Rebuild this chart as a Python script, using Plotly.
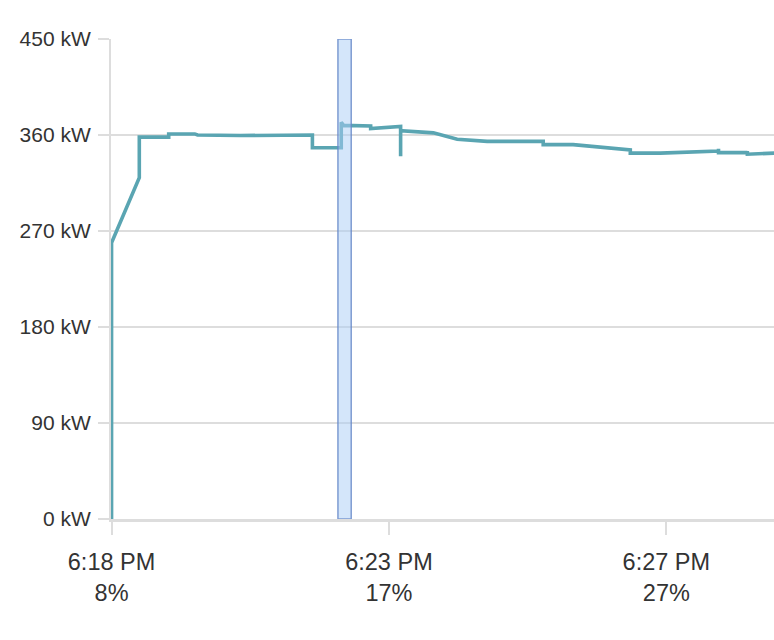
import plotly.graph_objects as go

# Session position (arbitrary units along the charging session; tick marks at 0, 5, 10)
position = [0, 0, 0.50, 0.50, 1.03, 1.03, 1.50, 1.55, 2.32, 3.62, 3.62, 4.14, 4.14, 4.18,
            4.67, 4.67, 5.21, 5.21, 5.21, 5.80, 6.23, 6.77, 7.78, 7.78, 8.32, 9.35, 9.35,
            9.89, 10.38, 10.94, 10.94, 10.94, 11.46, 11.46, 11.46, 11.95]
power_kw = [0, 259, 320, 358, 358, 361, 361, 360, 359.5, 360, 348, 348, 372, 369,
            368.5, 366, 368, 340, 364, 362, 356, 354, 354, 351, 351, 346, 343,
            343, 344, 345, 347, 343.5, 343.5, 345, 342, 343]

tick_pos = [0, 5, 10]
tick_time = ["6:18 PM", "6:23 PM", "6:27 PM"]
tick_soc = ["8%", "17%", "27%"]

y_ticks = [0, 90, 180, 270, 360, 450]
y_labels = [f"{v} kW" for v in y_ticks]

highlight = [4.08, 4.32]

fig = go.Figure()
fig.add_trace(go.Scatter(
    x=position, y=power_kw, mode="lines",
    line=dict(color="#5aa5b2", width=3.6),
    hoverinfo="skip", showlegend=False,
))

fig.add_shape(type="rect", xref="x", yref="y",
              x0=highlight[0], x1=highlight[1], y0=0, y1=450,
              fillcolor="rgba(170,205,245,0.5)",
              line=dict(color="rgba(100,135,200,0.8)", width=1.5),
              layer="above")

font_family = "Liberation Sans, Arial, Helvetica, sans-serif"

fig.update_layout(
    width=774, height=640,
    margin=dict(l=111, r=0, t=39, b=121),
    paper_bgcolor="white", plot_bgcolor="white",
    font=dict(family=font_family, color="#333333"),
    xaxis=dict(
        range=[-0.01, 11.94],
        tickmode="array", tickvals=tick_pos,
        ticktext=[f"{t}<br>{s}" for t, s in zip(tick_time, tick_soc)],
        tickfont=dict(size=23.5, color="#333333"),
        ticks="outside", ticklen=13, tickwidth=2, tickcolor="#dddddd",
        ticklabelstandoff=7,
        showgrid=False, zeroline=False,
        showline=True, linecolor="#dddddd", linewidth=3,
    ),
    yaxis=dict(
        range=[0, 450],
        tickmode="array", tickvals=y_ticks, ticktext=y_labels,
        tickfont=dict(size=21, color="#333333"),
        ticks="outside", ticklen=11, tickwidth=2, tickcolor="#dddddd",
        ticklabelstandoff=3,
        showgrid=True, gridcolor="#dddddd", gridwidth=2,
        zeroline=False,
        showline=True, linecolor="#dddddd", linewidth=2,
    ),
)

fig.write_html("out.html")
